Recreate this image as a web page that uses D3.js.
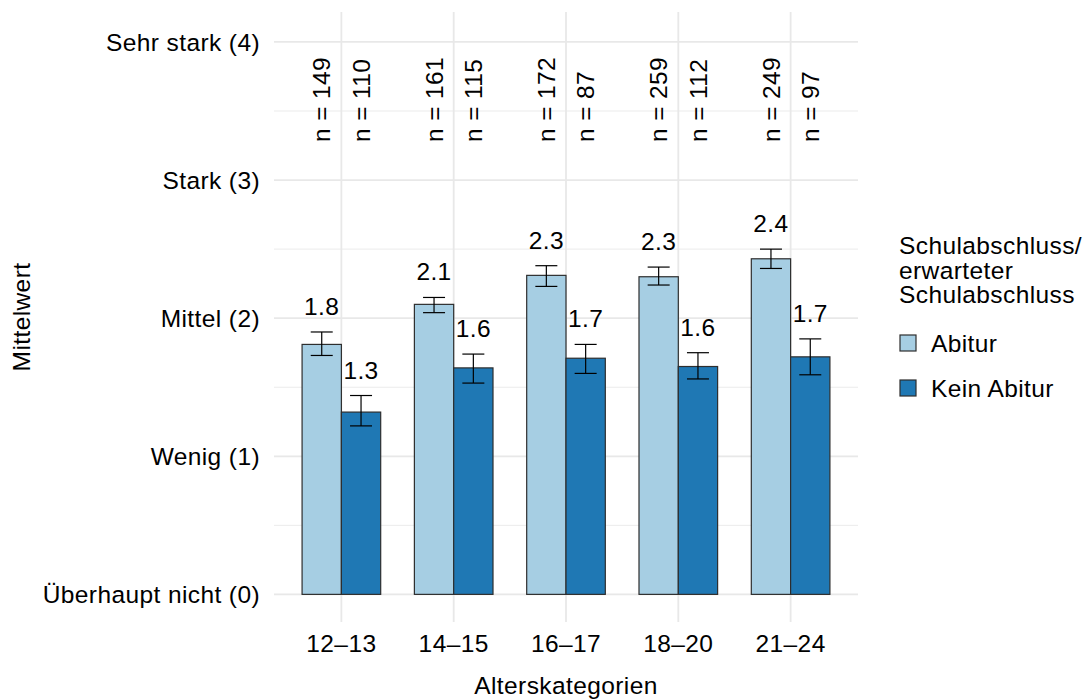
<!DOCTYPE html>
<html>
<head>
<meta charset="utf-8">
<script src="https://cdn.jsdelivr.net/npm/d3@7"></script>
<style>
  body { margin: 0; background: #fff; }
  svg text { font-family: "Liberation Sans", Arial, Helvetica, sans-serif; fill: #000; letter-spacing: 0.4px; }
</style>
</head>
<body>
<svg id="chart" width="1088" height="700"></svg>
<script>
// age groups and the two school groups
var categories = ["12–13", "14–15", "16–17", "18–20", "21–24"];
var groups = ["Abitur", "Kein Abitur"];

// means
var meanAbitur = [1.81, 2.10, 2.31, 2.30, 2.43];
var meanKein   = [1.32, 1.64, 1.71, 1.65, 1.72];

// error bar ends
var lowAbitur  = [1.73, 2.04, 2.23, 2.24, 2.36];
var highAbitur = [1.90, 2.15, 2.38, 2.37, 2.50];
var lowKein    = [1.22, 1.53, 1.60, 1.56, 1.59];
var highKein   = [1.44, 1.74, 1.81, 1.75, 1.85];

// sample sizes
var nAbitur = [149, 161, 172, 259, 249];
var nKein   = [110, 115, 87, 112, 97];

var yTicks = [0, 1, 2, 3, 4];
var yTickLabels = ["Überhaupt nicht (0)", "Wenig (1)", "Mittel (2)", "Stark (3)", "Sehr stark (4)"];
var yMinor = [0.5, 1.5, 2.5, 3.5];

var colors = ["#a6cee3", "#1f78b4"];

var svg = d3.select("#chart");
var fontSize = 24.5;

var panel = {left: 274, right: 858, top: 12, bottom: 622};

// discrete axis like ggplot: positions 1..n, expanded by 0.6 on each side
var xPos = d3.scaleLinear()
    .domain([0.4, categories.length + 0.6])
    .range([panel.left, panel.right]);
var step = xPos(2) - xPos(1);
var cx = function (c) { return xPos(categories.indexOf(c) + 1); };

var xg = d3.scaleBand().domain(groups).range([-step * 0.35, step * 0.35]);

var y = d3.scaleLinear()
    .domain([-0.2, 4.217])
    .range([panel.bottom, panel.top]);

var rows = [];
categories.forEach(function (c, i) {
    rows.push({cat: c, grp: groups[0], mean: meanAbitur[i], lo: lowAbitur[i], hi: highAbitur[i], n: nAbitur[i]});
    rows.push({cat: c, grp: groups[1], mean: meanKein[i], lo: lowKein[i], hi: highKein[i], n: nKein[i]});
});

// grid
var grid = svg.append("g");
grid.selectAll(".minor").data(yMinor).enter().append("line")
    .attr("x1", panel.left).attr("x2", panel.right)
    .attr("y1", function (d) { return y(d); }).attr("y2", function (d) { return y(d); })
    .attr("stroke", "#ebebeb").attr("stroke-width", 1);
grid.selectAll(".major").data(yTicks).enter().append("line")
    .attr("x1", panel.left).attr("x2", panel.right)
    .attr("y1", function (d) { return y(d); }).attr("y2", function (d) { return y(d); })
    .attr("stroke", "#e8e8e8").attr("stroke-width", 1.8);
grid.selectAll(".vmajor").data(categories).enter().append("line")
    .attr("x1", function (d) { return cx(d); }).attr("x2", function (d) { return cx(d); })
    .attr("y1", panel.top).attr("y2", panel.bottom)
    .attr("stroke", "#e8e8e8").attr("stroke-width", 1.8);

// bars
var bars = svg.append("g");
bars.selectAll("rect").data(rows).enter().append("rect")
    .attr("x", function (d) { return cx(d.cat) + xg(d.grp); })
    .attr("width", xg.bandwidth())
    .attr("y", function (d) { return y(d.mean); })
    .attr("height", function (d) { return y(0) - y(d.mean); })
    .attr("fill", function (d) { return colors[groups.indexOf(d.grp)]; })
    .attr("stroke", "#2e2e2e").attr("stroke-width", 1.2);

// error bars
var capW = 11;
var err = svg.append("g").attr("stroke", "#000").attr("stroke-width", 1.2).attr("fill", "none");
rows.forEach(function (d) {
    var mx = cx(d.cat) + xg(d.grp) + xg.bandwidth() / 2;
    err.append("line").attr("x1", mx).attr("x2", mx).attr("y1", y(d.lo)).attr("y2", y(d.hi));
    err.append("line").attr("x1", mx - capW).attr("x2", mx + capW).attr("y1", y(d.lo)).attr("y2", y(d.lo));
    err.append("line").attr("x1", mx - capW).attr("x2", mx + capW).attr("y1", y(d.hi)).attr("y2", y(d.hi));
});

// value labels
svg.append("g").selectAll("text").data(rows).enter().append("text")
    .attr("x", function (d) { return cx(d.cat) + xg(d.grp) + xg.bandwidth() / 2; })
    .attr("y", function (d) { return y(d.hi) - 17; })
    .attr("text-anchor", "middle")
    .attr("font-size", fontSize)
    .text(function (d) { return d3.format(".1f")(d.mean); });

// n labels
svg.append("g").selectAll("text").data(rows).enter().append("text")
    .attr("transform", function (d) {
        return "translate(" + (cx(d.cat) + xg(d.grp) + xg.bandwidth() / 2) + "," + y(3.275) + ") rotate(-90)";
    })
    .attr("dy", "0.35em")
    .attr("text-anchor", "start")
    .attr("font-size", fontSize)
    .text(function (d) { return "n = " + d.n; });

// y tick labels
svg.append("g").selectAll("text").data(yTicks).enter().append("text")
    .attr("x", 260)
    .attr("y", function (d) { return y(d); })
    .attr("dy", "0.35em")
    .attr("text-anchor", "end")
    .attr("font-size", fontSize)
    .text(function (d, i) { return yTickLabels[i]; });

// x tick labels
svg.append("g").selectAll("text").data(categories).enter().append("text")
    .attr("x", function (d) { return cx(d); })
    .attr("y", 643)
    .attr("dy", "0.35em")
    .attr("text-anchor", "middle")
    .attr("font-size", fontSize)
    .text(function (d) { return d; });

// axis titles
svg.append("text")
    .attr("transform", "translate(" + 21 + "," + ((panel.top + panel.bottom) / 2) + ") rotate(-90)")
    .attr("dy", "0.35em")
    .attr("text-anchor", "middle")
    .attr("font-size", fontSize)
    .text("Mittelwert");

svg.append("text")
    .attr("x", (panel.left + panel.right) / 2)
    .attr("y", 694)
    .attr("font-size", fontSize)
    .attr("text-anchor", "middle")
    .text("Alterskategorien");

// legend
var legend = svg.append("g");
["Schulabschluss/", "erwarteter", "Schulabschluss"].forEach(function (t, i) {
    legend.append("text").attr("x", 899).attr("y", 254 + i * 24.5)
        .attr("font-size", fontSize).text(t);
});
groups.forEach(function (g, i) {
    legend.append("rect")
        .attr("x", 900).attr("y", 335 + i * 45)
        .attr("width", 16).attr("height", 16)
        .attr("fill", colors[i]).attr("stroke", "#2e2e2e").attr("stroke-width", 1.2);
    legend.append("text").attr("x", 931).attr("y", 343 + i * 45)
        .attr("dy", "0.35em")
        .attr("font-size", fontSize).text(g);
});
</script>
</body>
</html>
